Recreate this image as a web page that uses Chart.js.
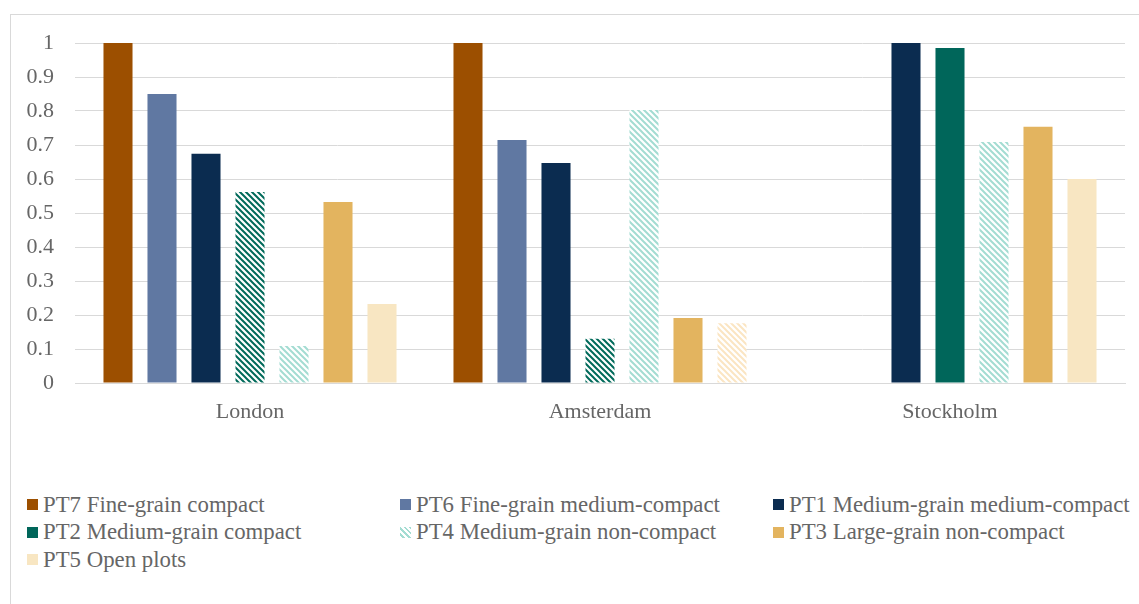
<!DOCTYPE html>
<html>
<head>
<meta charset="utf-8">
<script src="https://cdn.jsdelivr.net/npm/chart.js@4/dist/chart.umd.min.js"></script>
<style>
    body { margin: 0; background: #fff; font-family: "Liberation Serif", "Times New Roman", serif; }
    #frame { position: absolute; left: 10px; top: 14px; width: 1140px; height: 600px; border: 1px solid #d9d9d9; box-sizing: border-box; }
    #wrap { position: absolute; left: 0; top: 0; width: 1139px; height: 440px; }
    #legend { position: absolute; left: 27px; top: 491px; display: grid; grid-template-columns: 373px 373px 373px; grid-auto-rows: 27.5px; }
    .item { display: flex; align-items: center; font-size: 22.8px; color: #666; white-space: nowrap; }
    .box { width: 11px; height: 11px; margin-right: 5px; flex: none; }
</style>
</head>
<body>
<div id="frame"></div>
<div id="wrap"><canvas id="chart"></canvas></div>
<div id="legend"></div>
<script>
const categories = ["London", "Amsterdam", "Stockholm"];
const seriesNames = [
    "PT7 Fine-grain compact",
    "PT6 Fine-grain medium-compact",
    "PT1 Medium-grain medium-compact",
    "PT2 Medium-grain compact",
    "PT4 Medium-grain non-compact",
    "PT3 Large-grain non-compact",
    "PT5 Open plots",
];
const pt7 = [1.0, 1.0, null];
const pt6 = [0.85, 0.715, null];
const pt1 = [0.674, 0.647, 1.0];
const pt2 = [0.562, 0.13, 0.985];
const pt4 = [0.109, 0.803, 0.709];
const pt3 = [0.532, 0.191, 0.754];
const pt5 = [0.232, 0.176, 0.6];
const yTicks = ["0", "0.1", "0.2", "0.3", "0.4", "0.5", "0.6", "0.7", "0.8", "0.9", "1"];

const COLORS = {
    pt7: "#9c4f00",
    pt6: "#6078a2",
    pt1: "#0b2c50",
    pt2: "#00665a",
    pt4: "#a3dcd2",
    pt3: "#e3b45f",
    pt5: "#f8e6c2",
};

function hatch(color) {
    const c = document.createElement("canvas");
    c.width = 6;
    c.height = 6;
    const g = c.getContext("2d");
    g.fillStyle = "#fff";
    g.fillRect(0, 0, 6, 6);
    g.strokeStyle = color;
    g.lineWidth = 2;
    g.beginPath();
    g.moveTo(-1, -1); g.lineTo(7, 7);
    g.moveTo(-1, 5); g.lineTo(1, 7);
    g.moveTo(5, -1); g.lineTo(7, 1);
    g.stroke();
    return g.createPattern(c, "repeat");
}

const hatchPt2 = hatch("#006a5a");
const hatchPt4 = hatch("#a3dcd2");
const hatchPt5 = hatch("#fbe5c2");

const datasets = [
    { label: seriesNames[0], data: pt7, backgroundColor: COLORS.pt7 },
    { label: seriesNames[1], data: pt6, backgroundColor: COLORS.pt6 },
    { label: seriesNames[2], data: pt1, backgroundColor: COLORS.pt1 },
    { label: seriesNames[3], data: pt2, backgroundColor: [hatchPt2, hatchPt2, COLORS.pt2] },
    { label: seriesNames[4], data: pt4, backgroundColor: hatchPt4 },
    { label: seriesNames[5], data: pt3, backgroundColor: COLORS.pt3 },
    { label: seriesNames[6], data: pt5, backgroundColor: [COLORS.pt5, hatchPt5, COLORS.pt5] },
];

const tickFont = { family: "'Liberation Serif', 'Times New Roman', serif", size: 22 };

new Chart(document.getElementById("chart"), {
    type: "bar",
    data: { labels: categories, datasets: datasets },
    options: {
        responsive: true,
        maintainAspectRatio: false,
        animation: false,
        categoryPercentage: 0.88,
        barPercentage: 0.66,
        layout: { padding: { top: 43, right: 14, left: 0, bottom: 0 } },
        plugins: { legend: { display: false }, tooltip: { enabled: false } },
        scales: {
            x: {
                grid: { display: false },
                border: { color: "#d9d9d9", width: 1 },
                ticks: { font: tickFont, color: "#666", padding: 8 },
                afterFit: (s) => { s.height = 57; },
            },
            y: {
                min: 0,
                max: 1,
                grid: { color: "#d9d9d9", drawTicks: false },
                border: { display: false },
                ticks: {
                    stepSize: 0.1,
                    font: tickFont,
                    color: "#666",
                    padding: 21,
                    callback: (v, i) => yTicks[i],
                },
                afterFit: (s) => { s.width = 75; },
            },
        },
    },
});

const legendColors = [COLORS.pt7, COLORS.pt6, COLORS.pt1, COLORS.pt2, null, COLORS.pt3, COLORS.pt5];
const legend = document.getElementById("legend");
seriesNames.forEach((name, i) => {
    const item = document.createElement("div");
    item.className = "item";
    const box = document.createElement("span");
    box.className = "box";
    box.style.background = legendColors[i] ||
        "repeating-linear-gradient(45deg, #fff 0 2px, #a3dcd2 2px 4px)";
    item.appendChild(box);
    item.appendChild(document.createTextNode(name));
    legend.appendChild(item);
});
</script>
</body>
</html>
